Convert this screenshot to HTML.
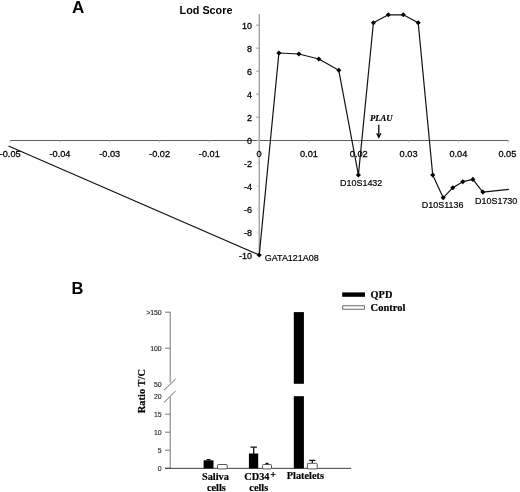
<!DOCTYPE html>
<html><head><meta charset="utf-8"><title>Figure</title>
<style>
html,body{margin:0;padding:0;background:#fff;}
body{width:520px;height:492px;overflow:hidden;}
svg{display:block;}
.s{font-family:"Liberation Sans",Arial,sans-serif;}
.t{font-family:"Liberation Serif","Times New Roman",serif;font-weight:bold;stroke:#000;stroke-width:0.18px;}
</style></head><body>
<svg width="520" height="492" viewBox="0 0 520 492">
<rect width="520" height="492" fill="#fff"/>
<g id="panelA">

<line x1="10" y1="140.5" x2="508.5" y2="140.5" stroke="#383838" stroke-width="0.8"/>
<line x1="259.2" y1="14" x2="259.2" y2="255.5" stroke="#8a8a8a" stroke-width="1.1"/>
<line x1="256.8" y1="255.15" x2="259.2" y2="255.15" stroke="#c8c8c8" stroke-width="1"/>
<text class="s" transform="translate(252 258.55) scale(0.94 1)" font-size="9.6" text-anchor="end" fill="#000" stroke="#000" stroke-width="0.28">-10</text>
<line x1="256.8" y1="232.15" x2="259.2" y2="232.15" stroke="#c8c8c8" stroke-width="1"/>
<text class="s" transform="translate(252 235.55) scale(0.94 1)" font-size="9.6" text-anchor="end" fill="#000" stroke="#000" stroke-width="0.28">-8</text>
<line x1="256.8" y1="209.15" x2="259.2" y2="209.15" stroke="#c8c8c8" stroke-width="1"/>
<text class="s" transform="translate(252 212.55) scale(0.94 1)" font-size="9.6" text-anchor="end" fill="#000" stroke="#000" stroke-width="0.28">-6</text>
<line x1="256.8" y1="186.15" x2="259.2" y2="186.15" stroke="#c8c8c8" stroke-width="1"/>
<text class="s" transform="translate(252 189.55) scale(0.94 1)" font-size="9.6" text-anchor="end" fill="#000" stroke="#000" stroke-width="0.28">-4</text>
<line x1="256.8" y1="163.15" x2="259.2" y2="163.15" stroke="#c8c8c8" stroke-width="1"/>
<text class="s" transform="translate(252 166.55) scale(0.94 1)" font-size="9.6" text-anchor="end" fill="#000" stroke="#000" stroke-width="0.28">-2</text>
<line x1="256.8" y1="140.15" x2="259.2" y2="140.15" stroke="#c8c8c8" stroke-width="1"/>
<text class="s" transform="translate(252 143.55) scale(0.94 1)" font-size="9.6" text-anchor="end" fill="#000" stroke="#000" stroke-width="0.28">0</text>
<line x1="256.2" y1="117.15" x2="259.2" y2="117.15" stroke="#999" stroke-width="1"/>
<text class="s" transform="translate(252 120.55) scale(0.94 1)" font-size="9.6" text-anchor="end" fill="#000" stroke="#000" stroke-width="0.28">2</text>
<line x1="256.2" y1="94.15" x2="259.2" y2="94.15" stroke="#999" stroke-width="1"/>
<text class="s" transform="translate(252 97.55) scale(0.94 1)" font-size="9.6" text-anchor="end" fill="#000" stroke="#000" stroke-width="0.28">4</text>
<line x1="256.2" y1="71.15" x2="259.2" y2="71.15" stroke="#999" stroke-width="1"/>
<text class="s" transform="translate(252 74.55) scale(0.94 1)" font-size="9.6" text-anchor="end" fill="#000" stroke="#000" stroke-width="0.28">6</text>
<line x1="256.2" y1="48.15" x2="259.2" y2="48.15" stroke="#999" stroke-width="1"/>
<text class="s" transform="translate(252 51.55) scale(0.94 1)" font-size="9.6" text-anchor="end" fill="#000" stroke="#000" stroke-width="0.28">8</text>
<line x1="256.2" y1="25.15" x2="259.2" y2="25.15" stroke="#999" stroke-width="1"/>
<text class="s" transform="translate(252 28.55) scale(0.94 1)" font-size="9.6" text-anchor="end" fill="#000" stroke="#000" stroke-width="0.28">10</text>
<line x1="10.25" y1="140.3" x2="10.25" y2="142.5" stroke="#bbb" stroke-width="1"/>
<text class="s" transform="translate(10.15 157.4) scale(0.96 1)" font-size="9.6" text-anchor="middle" fill="#000" stroke="#000" stroke-width="0.28">-0.05</text>
<line x1="60.05" y1="140.3" x2="60.05" y2="142.5" stroke="#bbb" stroke-width="1"/>
<text class="s" transform="translate(59.95 157.4) scale(0.96 1)" font-size="9.6" text-anchor="middle" fill="#000" stroke="#000" stroke-width="0.28">-0.04</text>
<line x1="109.85" y1="140.3" x2="109.85" y2="142.5" stroke="#bbb" stroke-width="1"/>
<text class="s" transform="translate(109.75 157.4) scale(0.96 1)" font-size="9.6" text-anchor="middle" fill="#000" stroke="#000" stroke-width="0.28">-0.03</text>
<line x1="159.65" y1="140.3" x2="159.65" y2="142.5" stroke="#bbb" stroke-width="1"/>
<text class="s" transform="translate(159.55 157.4) scale(0.96 1)" font-size="9.6" text-anchor="middle" fill="#000" stroke="#000" stroke-width="0.28">-0.02</text>
<line x1="209.45" y1="140.3" x2="209.45" y2="142.5" stroke="#bbb" stroke-width="1"/>
<text class="s" transform="translate(209.35 157.4) scale(0.96 1)" font-size="9.6" text-anchor="middle" fill="#000" stroke="#000" stroke-width="0.28">-0.01</text>
<line x1="259.25" y1="140.3" x2="259.25" y2="142.5" stroke="#bbb" stroke-width="1"/>
<text class="s" transform="translate(259.15 157.4) scale(0.96 1)" font-size="9.6" text-anchor="middle" fill="#000" stroke="#000" stroke-width="0.28">0</text>
<line x1="309.05" y1="140.3" x2="309.05" y2="142.5" stroke="#bbb" stroke-width="1"/>
<text class="s" transform="translate(308.95 157.4) scale(0.96 1)" font-size="9.6" text-anchor="middle" fill="#000" stroke="#000" stroke-width="0.28">0.01</text>
<line x1="358.85" y1="140.3" x2="358.85" y2="142.5" stroke="#bbb" stroke-width="1"/>
<text class="s" transform="translate(358.75 157.4) scale(0.96 1)" font-size="9.6" text-anchor="middle" fill="#000" stroke="#000" stroke-width="0.28">0.02</text>
<line x1="408.65" y1="140.3" x2="408.65" y2="142.5" stroke="#bbb" stroke-width="1"/>
<text class="s" transform="translate(408.55 157.4) scale(0.96 1)" font-size="9.6" text-anchor="middle" fill="#000" stroke="#000" stroke-width="0.28">0.03</text>
<line x1="458.45" y1="140.3" x2="458.45" y2="142.5" stroke="#bbb" stroke-width="1"/>
<text class="s" transform="translate(458.35 157.4) scale(0.96 1)" font-size="9.6" text-anchor="middle" fill="#000" stroke="#000" stroke-width="0.28">0.04</text>
<line x1="508.25" y1="140.3" x2="508.25" y2="142.5" stroke="#bbb" stroke-width="1"/>
<text class="s" transform="translate(507.35 157.4) scale(0.96 1)" font-size="9.6" text-anchor="middle" fill="#000" stroke="#000" stroke-width="0.28">0.05</text>
<polyline fill="none" stroke="#111" stroke-width="1.2" stroke-linejoin="round" points="8.5,146.0 259.25,255 278.9,53 298.9,54 318.8,59 338.8,70.3 358.4,175 373.4,22.8 388.3,14.8 403.3,14.8 418.2,22.8 432.7,175 443.2,197.8 452.8,187.7 462.8,181.7 472.9,179.4 482.8,192.1 508.9,189.3"/>
<path d="M256.70 255L259.25 252.45L261.80 255L259.25 257.55Z" fill="#000"/>
<path d="M276.35 53L278.9 50.45L281.45 53L278.9 55.55Z" fill="#000"/>
<path d="M296.35 54L298.9 51.45L301.45 54L298.9 56.55Z" fill="#000"/>
<path d="M316.25 59L318.8 56.45L321.35 59L318.8 61.55Z" fill="#000"/>
<path d="M336.25 70.3L338.8 67.75L341.35 70.3L338.8 72.85Z" fill="#000"/>
<path d="M355.85 175L358.4 172.45L360.95 175L358.4 177.55Z" fill="#000"/>
<path d="M370.85 22.8L373.4 20.25L375.95 22.8L373.4 25.35Z" fill="#000"/>
<path d="M385.75 14.8L388.3 12.25L390.85 14.8L388.3 17.35Z" fill="#000"/>
<path d="M400.75 14.8L403.3 12.25L405.85 14.8L403.3 17.35Z" fill="#000"/>
<path d="M415.65 22.8L418.2 20.25L420.75 22.8L418.2 25.35Z" fill="#000"/>
<path d="M430.15 175L432.7 172.45L435.25 175L432.7 177.55Z" fill="#000"/>
<path d="M440.65 197.8L443.2 195.25L445.75 197.8L443.2 200.35Z" fill="#000"/>
<path d="M450.25 187.7L452.8 185.15L455.35 187.7L452.8 190.25Z" fill="#000"/>
<path d="M460.25 181.7L462.8 179.15L465.35 181.7L462.8 184.25Z" fill="#000"/>
<path d="M470.35 179.4L472.9 176.85L475.45 179.4L472.9 181.95Z" fill="#000"/>
<path d="M480.25 192.1L482.8 189.55L485.35 192.1L482.8 194.65Z" fill="#000"/>
<text class="s" x="71.9" y="12.5" font-size="17" font-weight="bold" fill="#000">A</text>
<text class="s" x="179.6" y="14.4" font-size="10.8" font-weight="bold" fill="#000">Lod Score</text>
<text class="s" transform="translate(264.8 261.4) scale(0.925 1)" font-size="9.7" fill="#000" stroke="#000" stroke-width="0.2">GATA121A08</text>
<text class="s" transform="translate(340 186.4) scale(0.925 1)" font-size="9.7" fill="#000" stroke="#000" stroke-width="0.2">D10S1432</text>
<text class="s" transform="translate(421.8 208.4) scale(0.925 1)" font-size="9.7" fill="#000" stroke="#000" stroke-width="0.2">D10S1136</text>
<text class="s" transform="translate(475 203.9) scale(0.925 1)" font-size="9.7" fill="#000" stroke="#000" stroke-width="0.2">D10S1730</text>
<text class="t" x="369.9" y="121.3" font-size="8.7" font-style="italic" fill="#000" stroke="#000" stroke-width="0.2">PLAU</text>
<path d="M378.8 124.8V136.5" stroke="#000" stroke-width="1.3" fill="none"/><path d="M376.7 133.2L378.8 137.3L380.9 133.2" stroke="#000" stroke-width="1.25" fill="none" stroke-linejoin="miter"/>
</g>
<g id="panelB">
<text class="s" x="71.5" y="294.1" font-size="16.5" font-weight="bold" fill="#000">B</text>
<line x1="170.2" y1="311.8" x2="170.2" y2="382.6" stroke="#686868" stroke-width="0.9"/>
<line x1="170.2" y1="396.9" x2="170.2" y2="468.5" stroke="#686868" stroke-width="0.9"/>
<line x1="164" y1="390.3" x2="175.6" y2="379" stroke="#555" stroke-width="0.9"/>
<line x1="164" y1="402.5" x2="175.6" y2="391" stroke="#555" stroke-width="0.9"/>
<line x1="165" y1="312.20" x2="170.2" y2="312.20" stroke="#606060" stroke-width="0.85"/>
<text class="s" x="161.7" y="314.90" font-size="6.9" text-anchor="end" fill="#222" stroke="#222" stroke-width="0.12">&gt;150</text>
<line x1="165" y1="348.20" x2="170.2" y2="348.20" stroke="#606060" stroke-width="0.85"/>
<text class="s" x="161.7" y="350.90" font-size="6.9" text-anchor="end" fill="#222" stroke="#222" stroke-width="0.12">100</text>
<line x1="165" y1="414.20" x2="170.2" y2="414.20" stroke="#606060" stroke-width="0.85"/>
<text class="s" x="161.7" y="416.90" font-size="6.9" text-anchor="end" fill="#222" stroke="#222" stroke-width="0.12">15</text>
<line x1="165" y1="432.20" x2="170.2" y2="432.20" stroke="#606060" stroke-width="0.85"/>
<text class="s" x="161.7" y="434.90" font-size="6.9" text-anchor="end" fill="#222" stroke="#222" stroke-width="0.12">10</text>
<line x1="165" y1="450.20" x2="170.2" y2="450.20" stroke="#606060" stroke-width="0.85"/>
<text class="s" x="161.7" y="452.90" font-size="6.9" text-anchor="end" fill="#222" stroke="#222" stroke-width="0.12">5</text>
<line x1="165" y1="468.20" x2="170.2" y2="468.20" stroke="#606060" stroke-width="0.85"/>
<text class="s" x="161.7" y="470.90" font-size="6.9" text-anchor="end" fill="#222" stroke="#222" stroke-width="0.12">0</text>
<text class="s" x="161.7" y="386.6" font-size="6.9" text-anchor="end" fill="#222" stroke="#222" stroke-width="0.12">50</text>
<text class="s" x="161.7" y="398.8" font-size="6.9" text-anchor="end" fill="#222" stroke="#222" stroke-width="0.12">20</text>
<line x1="165" y1="468.35" x2="351" y2="468.35" stroke="#2a2a2a" stroke-width="0.9"/>
<text class="t" transform="translate(145.0 413.2) rotate(-90)" font-size="10.45" fill="#000">Ratio T/C</text>
<path d="M208.5 460.5V459.7M206.5 459.7H210.5" stroke="#111" stroke-width="1.3" fill="none"/>
<rect x="203.6" y="460.3" width="9.90" height="8.10" fill="#000"/>
<rect x="217.5" y="464.5" width="9.70" height="4.40" fill="#fff" stroke="#3a3a3a" stroke-width="0.85" rx="0.8"/>
<path d="M253.7 454V447.2M250.5 447.2H256.9" stroke="#111" stroke-width="1.3" fill="none"/>
<rect x="248.9" y="453.5" width="9.30" height="14.90" fill="#000"/>
<path d="M267 464V463.5M265.5 463.5H268.5" stroke="#111" stroke-width="1.3" fill="none"/>
<rect x="262.6" y="464.5" width="8.90" height="4.40" fill="#fff" stroke="#3a3a3a" stroke-width="0.85" rx="0.8"/>
<rect x="293.8" y="312.1" width="10.1" height="71.7" fill="#000"/>
<rect x="293.8" y="396.2" width="10.1" height="72.2" fill="#000"/>
<path d="M312.3 463V460.4M309.2 460.4H315.40000000000003" stroke="#111" stroke-width="1.3" fill="none"/>
<rect x="307.4" y="463.3" width="9.80" height="5.60" fill="#fff" stroke="#3a3a3a" stroke-width="0.85" rx="0.8"/>
<text class="t" x="215.4" y="479.5" font-size="10.3" text-anchor="middle" fill="#000">Saliva</text>
<text class="t" x="216.4" y="490.5" font-size="10.3" text-anchor="middle" fill="#000">cells</text>
<text class="t" x="244.3" y="479.5" font-size="10.3" fill="#000">CD34<tspan font-size="10" dy="-1.3" dx="0.8">+</tspan></text>
<text class="t" x="258.8" y="491.4" font-size="10.3" text-anchor="middle" fill="#000">cells</text>
<text class="t" x="286.8" y="479.3" font-size="10.3" fill="#000">Platelets</text>
<rect x="342.2" y="292.4" width="22.8" height="4.4" fill="#000"/>
<rect x="342.7" y="305.8" width="21.8" height="3.4" fill="#fff" stroke="#444" stroke-width="0.8"/>
<text class="t" x="370.6" y="297.7" font-size="10.3" fill="#000">QPD</text>
<text class="t" x="370.6" y="310.5" font-size="10.5" fill="#000">Control</text>
</g>
</svg>
</body></html>
